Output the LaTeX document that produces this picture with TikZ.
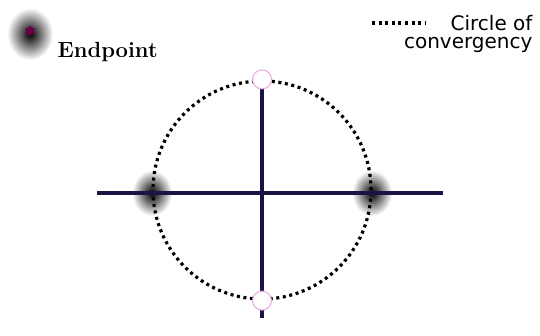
\documentclass[tikz,border=0pt]{standalone}
\usepackage{fontspec}
\newfontfamily\legendfont{DejaVu Sans}
\usetikzlibrary{shapes.geometric}
\definecolor{axisblue}{RGB}{24,20,68}
\definecolor{holepink}{RGB}{225,130,205}
\definecolor{starpurple}{RGB}{105,0,70}

\begin{document}
\begin{tikzpicture}[x=1pt,y=-1pt,
  endblob/.style={ellipse,inner color=black,outer color=white,minimum width=40pt,minimum height=46pt},
  hole/.style={circle,fill=white,draw=holepink!70,line width=1pt,minimum size=19pt},
  dotline/.style={line width=3.2pt,dash pattern=on 3pt off 3.6pt},
  axis/.style={axisblue,line width=3.4pt}]
\useasboundingbox (0,0) rectangle (540,335);

% legend
\node[endblob,minimum width=46pt,minimum height=52pt] (keyblob) at (30,34) {};
\node[star,star points=6,fill=starpurple,inner sep=0pt,minimum size=11pt] (keystar) at (30,31) {};
\node[font=\bfseries\fontsize{22}{24}\selectfont,anchor=base west] (keytext) at (54,57) {Endpoint};
\coordinate (dotl) at (372,23);
\coordinate (dotr) at (425,23);
\draw[dotline] (dotl) -- (dotr);
\node[font=\legendfont\fontsize{20}{18}\selectfont,align=right,anchor=base east] (keyconv) at (536,48) {Circle of\\convergency};

% endpoints on the real axis
\node[endblob] (leftend) at (152,193) {};
\node[endblob] (rightend) at (372,193) {};

% circle and axes
\node[circle,draw,dotline,minimum size=218pt,inner sep=0pt] (conv) at (262,190) {};
\coordinate (xl) at (97,193);
\coordinate (xr) at (443,193);
\coordinate (yt) at (262,82);
\coordinate (yb) at (262,318);
\draw[axis] (xl) -- (xr);
\draw[axis] (yt) -- (yb);

% open points on the imaginary axis
\node[hole] (tophole) at (conv.north) {};
\node[hole] (bothole) at (conv.south) {};
\end{tikzpicture}
\end{document}
